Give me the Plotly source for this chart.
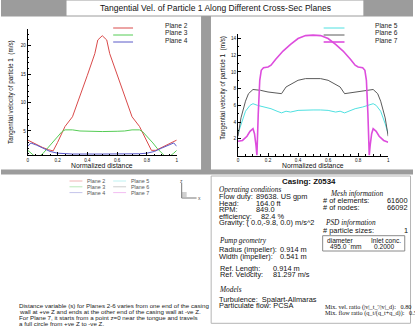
import plotly.graph_objects as go

W, H = 415, 328

# ---- data (normalized distance, tangential velocity m/s) ----
dist_p2 = [0, 0.05, 0.1, 0.14, 0.17, 0.2, 0.25, 0.3, 0.35, 0.4, 0.45, 0.47, 0.5,
           0.53, 0.55, 0.6, 0.65, 0.7, 0.75, 0.8, 0.83, 0.86, 0.9, 0.95, 1.0]
vel_p2 = [3.4, 2.7, 2.1, 1.7, 1.5, 3.0, 5.8, 7.5, 11.0, 14.8, 18.6, 21.0, 21.75,
          21.0, 18.6, 14.8, 11.0, 7.5, 5.8, 3.1, 1.6, 1.6, 2.1, 2.7, 3.4]

dist_p3 = [0, 0.02, 0.04, 0.06, 0.08, 0.1, 0.13, 0.16, 0.2, 0.23, 0.25, 0.3, 0.35, 0.4, 0.5,
           0.6, 0.65, 0.7, 0.75, 0.77, 0.8, 0.84, 0.87, 0.9, 0.92, 0.94, 0.96, 0.98, 1.0]
vel_p3 = [1.6, 1.1, 0.7, 0.5, 0.6, 1.0, 1.9, 2.9, 4.1, 4.9, 5.2, 5.2, 5.0, 4.95, 4.9,
          4.95, 5.0, 5.2, 5.2, 4.9, 4.1, 2.9, 1.9, 1.0, 0.6, 0.5, 0.7, 1.1, 1.6]

dist_p4 = [0, 0.02, 0.06, 0.1, 0.15, 0.2, 0.25, 0.3, 0.5, 0.7, 0.75, 0.8, 0.85, 0.9, 0.94, 0.98, 1.0]
vel_p4 = [2.3, 2.9, 2.5, 2.0, 1.4, 1.1, 1.0, 0.95, 0.95, 0.95, 1.0, 1.1, 1.4, 2.0, 2.5, 2.9, 2.3]

dist_p5 = [0, 0.02, 0.05, 0.08, 0.1, 0.13, 0.17, 0.22, 0.26, 0.29, 0.32, 0.35, 0.4, 0.45, 0.5,
           0.55, 0.6, 0.65, 0.68, 0.71, 0.74, 0.78, 0.83, 0.87, 0.9, 0.92, 0.95, 0.98, 1.0]
vel_p5 = [2.6, 3.8, 5.3, 6.0, 6.2, 6.0, 5.8, 5.6, 5.3, 5.1, 5.3, 5.2, 5.4, 5.45, 5.45,
          5.45, 5.4, 5.2, 5.3, 5.1, 5.3, 5.6, 5.8, 6.0, 6.2, 6.0, 5.3, 3.8, 2.6]

dist_p6 = [0, 0.02, 0.05, 0.07, 0.1, 0.15, 0.2, 0.25, 0.29, 0.32, 0.36, 0.4, 0.45, 0.5,
           0.55, 0.6, 0.64, 0.68, 0.71, 0.75, 0.8, 0.85, 0.9, 0.93, 0.95, 0.98, 1.0]
vel_p6 = [2.3, 4.5, 6.5, 7.4, 7.9, 7.8, 7.6, 7.5, 7.4, 8.2, 8.6, 9.0, 9.2, 9.2,
          9.2, 9.0, 8.6, 8.2, 7.4, 7.5, 7.6, 7.8, 7.9, 7.4, 6.5, 4.5, 2.3]

dist_p7 = [0, 0.03, 0.06, 0.08, 0.1, 0.11, 0.12, 0.126, 0.135, 0.145, 0.155, 0.17, 0.2,
           0.22, 0.25, 0.3, 0.35, 0.4, 0.45, 0.5, 0.55, 0.6, 0.65, 0.7, 0.75, 0.78, 0.8,
           0.83, 0.845, 0.855, 0.865, 0.874, 0.88, 0.89, 0.9, 0.92, 0.94, 0.97, 1.0]
vel_p7 = [1.7, 1.8, 2.3, 2.9, 3.2, 2.6, 1.2, 0.0, 5.0, 9.0, 10.2, 10.5, 10.6,
          10.8, 11.5, 12.5, 13.3, 14.0, 14.35, 14.4, 14.35, 14.0, 13.3, 12.5, 11.5, 10.8, 10.6,
          10.5, 10.2, 9.0, 5.0, 0.0, 1.2, 2.6, 3.2, 2.9, 2.3, 1.8, 1.6]

left_yticks = [5, 10, 15, 20]
right_yticks = [2, 4, 6, 8, 10, 12, 14]

series = [
    dict(name="Plane 2", x=dist_p2, y=vel_p2, color="#d94a4a", pale="#f0b4b4", w=1, ax=1),
    dict(name="Plane 3", x=dist_p3, y=vel_p3, color="#55cc55", pale="#b8e8b8", w=1, ax=1),
    dict(name="Plane 4", x=dist_p4, y=vel_p4, color="#5a5ac8", pale="#c4c4ea", w=1, ax=1),
    dict(name="Plane 5", x=dist_p5, y=vel_p5, color="#4fe0e0", pale="#bff2f2", w=1, ax=2),
    dict(name="Plane 6", x=dist_p6, y=vel_p6, color="#5a5a5a", pale="#cccccc", w=1, ax=2),
    dict(name="Plane 7", x=dist_p7, y=vel_p7, color="#dd4ddd", pale="#f2bdf2", w=1.6, ax=2),
]

SANS = "Liberation Sans, Arial, Helvetica, sans-serif"
SERIF = "Liberation Serif, Times New Roman, serif"
GRAY = "#9c9c9c"
INFO = 7.4   # info box body text size


def X(p):
    return p / W


def Y(p):
    return 1 - p / H


fig = go.Figure()
for s in series:
    fig.add_trace(go.Scatter(
        x=s["x"], y=s["y"], mode="lines", name=s["name"],
        line=dict(color=s["color"], width=s["w"]),
        xaxis="x" if s["ax"] == 1 else "x2",
        yaxis="y" if s["ax"] == 1 else "y2",
        showlegend=False,
    ))

shapes = []
annotations = []


def rect(x0, y0, x1, y1, fill=None, line=None, lw=1):
    shapes.append(dict(type="rect", xref="paper", yref="paper",
                       x0=X(x0), x1=X(x1), y0=Y(y1), y1=Y(y0),
                       fillcolor=fill or "rgba(0,0,0,0)",
                       line=dict(color=line or "rgba(0,0,0,0)", width=lw if line else 0),
                       layer="below"))


def hline(x0, x1, y, color, w=1):
    shapes.append(dict(type="line", xref="paper", yref="paper",
                       x0=X(x0), x1=X(x1), y0=Y(y), y1=Y(y),
                       line=dict(color=color, width=w)))


def vline(x, y0, y1, color, w=1):
    shapes.append(dict(type="line", xref="paper", yref="paper",
                       x0=X(x), x1=X(x), y0=Y(y0), y1=Y(y1),
                       line=dict(color=color, width=w)))


def txt(x, y, s, size=INFO, family=SANS, anchor="left", color="#111", angle=0, bold=False):
    if bold:
        s = "<b>" + s + "</b>"
    annotations.append(dict(xref="paper", yref="paper", x=X(x), y=Y(y), text=s,
                            showarrow=False, xanchor=anchor, yanchor="middle",
                            textangle=angle, font=dict(size=size, family=family, color=color)))


# gray frame bands
rect(0, 0, 415, 16.5, fill=GRAY)
rect(66, 0.5, 365, 15.5, fill="white")
rect(201.5, 16, 211.5, 171, fill=GRAY)
rect(0, 169.5, 415, 174.5, fill=GRAY)

txt(216, 8.3, "Tangential Vel. of Particle 1 Along Different Cross-Sec Planes", size=8.5, anchor="center")

# axis titles
txt(102, 165.7, "Normalized distance", size=6.8, anchor="center")
txt(314.5, 165.7, "Normalized distance", size=6.8, anchor="center")
txt(10, 92, "Tangential velocity of particle 1  (m/s)", size=6.3, anchor="center", angle=-90)
txt(223.3, 88, "Tangential velocity of particle 1  (m/s)", size=6.3, anchor="center", angle=-90)

# in-plot legends
for i, s in enumerate(series):
    row = i % 3
    ly = 28 + 7 * row
    if s["ax"] == 1:
        hline(113, 133, ly, s["color"], 1)
        txt(163, ly - 2, s["name"], size=6.6, color="#222")
    else:
        hline(325, 346, ly, s["color"], s["w"])
        txt(375, ly - 2, s["name"], size=6.6, color="#222")

# faint combined legend below the plots
for i, s in enumerate(series):
    row = i % 3
    col = i // 3
    ly = 181 + 5.8 * row
    lx = 69 if col == 0 else 113
    hline(lx, lx + 13, ly, s["pale"], 1)
    txt(lx + 16, ly, s["name"], size=5.4, color="#555")

# little axis triad
vline(182, 183, 198, "#777", 1)
hline(182, 197, 198, "#777", 1)
rect(182, 192, 187, 197, fill="#d0d0d0")
txt(181.7, 181, "z", size=5, anchor="center", color="#555")
txt(200, 198, "x", size=5, anchor="center", color="#555")

# note text
note = [
    "Distance variable (s) for Planes 2-6 varies from one end of the casing",
    "wall at +ve Z and ends at the other end of the casing wall at -ve Z.",
    "For Plane 7, it starts from a point z=0 near the tongue and travels",
    "a full circle from +ve Z to -ve Z.",
]
for k, line in enumerate(note):
    txt(15.7, 305.5 + 6 * k, line, size=6.2, color="#222")

# info box
rect(211.7, 176, 412.5, 323.3, line="#b5b5b5", lw=1)
txt(310, 181.5, "Casing: Z0534", size=7.9, anchor="center", bold=True)

txt(218, 189.3, "<i>Operating conditions</i>", size=7.3, family=SERIF)
rows_op = [
    ("Flow duty:", "89638. US gpm", 196.5),
    ("Head:", "164.0 ft", 203.2),
    ("RPM:", "849.0", 209.6),
]
for lab, val, yy in rows_op:
    txt(218, yy, lab)
    txt(254.5, yy, val)
txt(218, 216, "efficiency:")
txt(260, 216, "82.4 %")
txt(218, 222.7, "Gravity: ( 0.0,-9.8, 0.0) m/s^2")

txt(218, 240.5, "<i>Pump geometry</i>", size=7.3, family=SERIF)
txt(218, 249.3, "Radius (impeller):")
txt(279.5, 249.3, "0.914 m")
txt(218, 256.8, "Width (impeller):")
txt(279.5, 256.8, "0.541 m")

txt(219, 268.3, "Ref. Length:")
txt(271.5, 268.3, "0.914 m")
txt(219, 274.5, "Ref. Velocity:")
txt(271.5, 274.5, "81.297 m/s")

txt(218, 289.3, "<i>Models</i>", size=7.3, family=SERIF)
txt(218, 299.3, "Turbulence:  Spalart-Allmaras")
txt(218, 305.2, "Particulate flow: PCSA")
txt(324, 306.7, "Mix. vel. ratio (|v|_t_'/|v|_d):   0.80", size=6.2, family=SERIF)
txt(324, 312.5, "Mix. flow ratio (q_t/(q_t+q_d)):   0.50", size=6.2, family=SERIF)

txt(358, 193.3, "<i>Mesh information</i>", size=7.3, family=SERIF, anchor="center")
txt(322.3, 200.5, "# of elements:")
txt(412, 200.5, "61600", anchor="right")
txt(322.3, 207.2, "# of nodes:")
txt(412, 207.2, "66092", anchor="right")

txt(324, 222.3, "<i>PSD information</i>", size=7.3, family=SERIF)
txt(322.3, 230.5, "# particle sizes:")
txt(412, 230.5, "1", anchor="right")
rect(324, 235.7, 406.7, 251, line="#8a8a8a", lw=1)
txt(326.7, 240, "diameter", size=6.6)
txt(405, 240, "Inlet conc.", size=6.6, anchor="right")
txt(329, 246, "495.0 `mm", size=6.6)
txt(399, 246, "0.2000", size=6.6, anchor="right")

axis_common = dict(
    showline=True, linecolor="black", linewidth=1, mirror=False,
    ticks="inside", ticklen=3, tickwidth=1, tickcolor="black",
    showgrid=False, zeroline=False,
    tickfont=dict(size=4.6, family=SANS, color="#111"),
)

fig.update_layout(
    width=W, height=H,
    margin=dict(l=0, r=0, t=0, b=0),
    paper_bgcolor="white", plot_bgcolor="rgba(0,0,0,0)",
    showlegend=False,
    xaxis=dict(domain=[X(27), X(177)], range=[0, 1], dtick=0.2, anchor="y",
               minor=dict(dtick=0.05, ticks="inside", ticklen=1.5, tickcolor="black"),
               **axis_common),
    yaxis=dict(domain=[Y(155), Y(28.6)], range=[0.78, 23.0], tickvals=left_yticks, anchor="x",
               minor=dict(dtick=1, ticks="inside", ticklen=1.5, tickcolor="black"),
               **axis_common),
    xaxis2=dict(domain=[X(238.7), X(390)], range=[0, 1], dtick=0.2, anchor="y2",
                minor=dict(dtick=0.05, ticks="inside", ticklen=1.5, tickcolor="black"),
                **axis_common),
    yaxis2=dict(domain=[Y(155.5), Y(33.5)], range=[0, 14.6], tickvals=right_yticks, anchor="x2",
                minor=dict(dtick=1, ticks="inside", ticklen=1.5, tickcolor="black"),
                **axis_common),
    shapes=shapes,
    annotations=annotations,
)

# page body margin would shift the 415x328 figure; drop it
fig.write_html("out.html", config={"displayModeBar": False},
               post_script="document.body.style.margin='0';document.body.style.overflow='hidden';")
